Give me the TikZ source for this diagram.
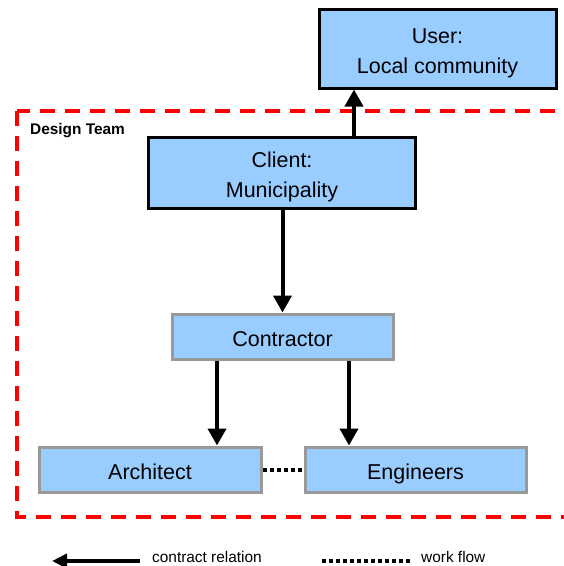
\documentclass[tikz,border=0pt]{standalone}
\usepackage{fontspec}
\setmainfont{Liberation Sans}
\usetikzlibrary{arrows.meta}
\definecolor{boxblue}{HTML}{99CCFF}
\definecolor{boxgray}{HTML}{999999}
\tikzset{
  box/.style={draw=black, fill=boxblue, line width=3pt, rectangle, align=center,
    inner sep=0pt, text height=20pt, text depth=0pt,
    font=\fontsize{21.5}{30}\selectfont},
  twoline/.style={text height=50pt},
  graybox/.style={box, draw=boxgray},
  arr/.style={line width=4pt, -{Triangle[length=17pt,width=18pt]}},
  flow/.style={line width=4pt, dash pattern=on 4pt off 3pt},
  team/.style={draw=red, line width=4pt, dash pattern=on 15pt off 10pt},
  legend/.style={font=\fontsize{15.4}{18}\selectfont, inner sep=0pt}
}
\begin{document}
\begin{tikzpicture}[x=1pt,y=-1pt]
\useasboundingbox (0,0) rectangle (564,566);

% design team boundary (runs off the right edge)
\draw[team] (17,111) rectangle (580,517);
\node[anchor=base west, inner sep=0pt, font=\fontsize{15.4}{18}\selectfont\bfseries] (teamlabel) at (30,134) {Design Team};

% parties
\node[box, twoline, minimum width=237pt, minimum height=79pt] (user) at (437.5,48.5) {User:\\Local community};
\node[box, twoline, minimum width=267pt, minimum height=71pt] (client) at (282,172.5) {Client:\\Municipality};
\node[graybox, minimum width=221pt, minimum height=45pt] (contractor) at (282.5,336.5) {Contractor};
\node[graybox, minimum width=222pt, minimum height=45pt] (architect) at (150,469.5) {Architect};
\node[graybox, minimum width=221pt, minimum height=45pt] (engineers) at (415.5,469.5) {Engineers};

% x positions of the vertical connectors
\coordinate (xu) at (354,0);
\coordinate (xa) at (217,0);
\coordinate (xe) at (349,0);

% contract relations
\draw[arr] (client.north -| xu) -- (user.south -| xu);
\draw[arr] (client.south -| contractor.north) -- (contractor.north);
\draw[arr] (contractor.south -| xa) -- (architect.north -| xa);
\draw[arr] (contractor.south -| xe) -- (engineers.north -| xe);

% work flow
\draw[flow] (architect.east) -- (engineers.west);

% legend
\coordinate (la) at (140,561);
\coordinate (lb) at (52,561);
\draw[line width=4pt, -{Triangle[length=15pt,width=14pt]}] (la) -- (lb);
\node[legend, anchor=base west] (lcontract) at (152,562) {contract relation};
\coordinate (lc) at (322,561);
\coordinate (ld) at (410,561);
\draw[flow] (lc) -- (ld);
\node[legend, anchor=base west] (lflow) at (421,562) {work flow};
\end{tikzpicture}
\end{document}
